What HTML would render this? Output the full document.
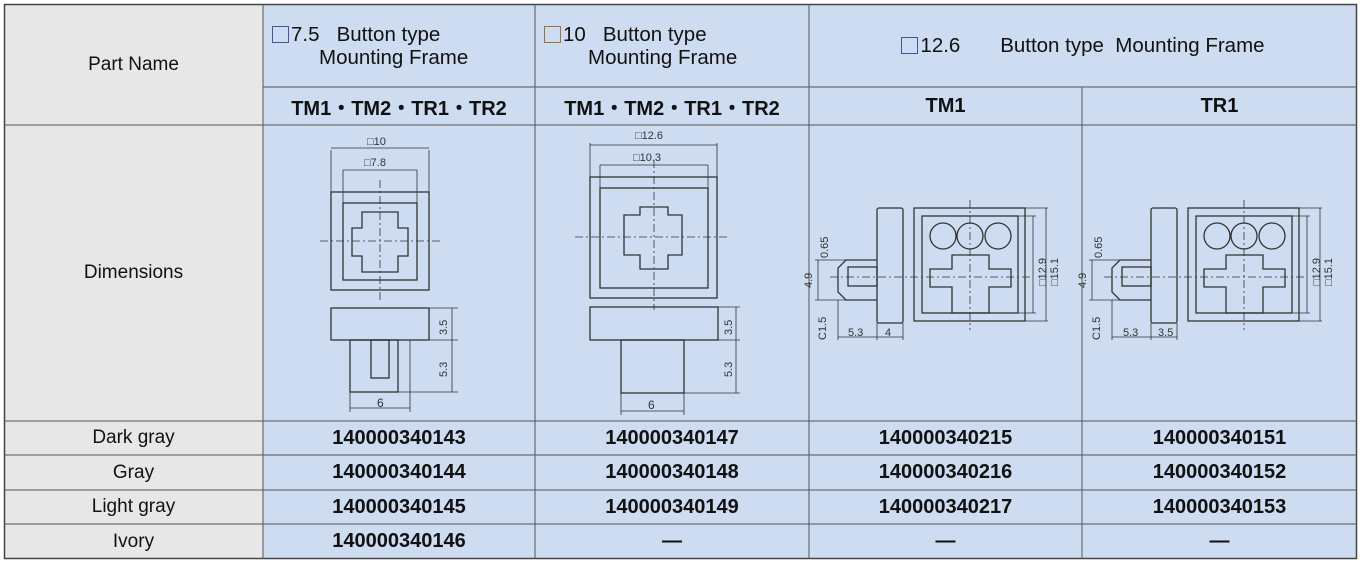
<!DOCTYPE html>
<html><head><meta charset="utf-8"><style>
body{margin:0;width:1360px;height:564px;background:#fff;position:relative;overflow:hidden;font-family:"Liberation Sans",Arial,sans-serif;color:#111}
.c{position:absolute;box-sizing:border-box;display:flex;align-items:center;justify-content:center;text-align:center;font-size:19px}
.g{background:#e7e7e8}.b{background:#cddcf0}
.h{font-size:20.5px}
.bd{font-weight:bold;font-size:20px}
.sq{display:inline-block;width:17px;height:17px;border:1.5px solid #3a5a9a;box-sizing:border-box;vertical-align:-2px;margin-right:2px}
svg{position:absolute;left:0;top:0}
</style></head><body>
<div class="c g" style="left:4px;top:4px;width:259px;height:121px">Part Name</div>
<div class="c b h" style="left:263px;top:4px;width:272px;height:83px;justify-content:flex-start;padding-left:9px;text-align:left;line-height:23px"><div><span class="sq"></span>7.5&nbsp;&nbsp;&nbsp;Button type<br><span style="padding-left:47px">Mounting Frame</span></div></div>
<div class="c b h" style="left:535px;top:4px;width:274px;height:83px;justify-content:flex-start;padding-left:9px;text-align:left;line-height:23px"><div><span class="sq" style="border-color:#a0703a"></span>10&nbsp;&nbsp;&nbsp;Button type<br><span style="padding-left:44px">Mounting Frame</span></div></div>
<div class="c b h" style="left:809px;top:4px;width:548px;height:83px"><div><span class="sq"></span>12.6&nbsp;&nbsp;&nbsp;&nbsp;&nbsp;&nbsp;&nbsp;Button type&nbsp; Mounting Frame</div></div>
<div class="c b bd" style="left:263px;top:87px;width:272px;height:38px">TM1・TM2・TR1・TR2</div>
<div class="c b bd" style="left:535px;top:87px;width:274px;height:38px">TM1・TM2・TR1・TR2</div>
<div class="c b bd" style="left:809px;top:87px;width:273px;height:38px">TM1</div>
<div class="c b bd" style="left:1082px;top:87px;width:275px;height:38px">TR1</div>
<div class="c g" style="left:4px;top:125px;width:259px;height:296px">Dimensions</div>
<div class="c b" style="left:263px;top:125px;width:1094px;height:296px"></div>
<div class="c g" style="left:4px;top:421px;width:259px;height:34px">Dark gray</div>
<div class="c g" style="left:4px;top:455px;width:259px;height:35px">Gray</div>
<div class="c g" style="left:4px;top:490px;width:259px;height:34px">Light gray</div>
<div class="c g" style="left:4px;top:524px;width:259px;height:35px">Ivory</div>
<div class="c b bd" style="left:263px;top:421px;width:272px;height:34px">140000340143</div>
<div class="c b bd" style="left:535px;top:421px;width:274px;height:34px">140000340147</div>
<div class="c b bd" style="left:809px;top:421px;width:273px;height:34px">140000340215</div>
<div class="c b bd" style="left:1082px;top:421px;width:275px;height:34px">140000340151</div>
<div class="c b bd" style="left:263px;top:455px;width:272px;height:35px">140000340144</div>
<div class="c b bd" style="left:535px;top:455px;width:274px;height:35px">140000340148</div>
<div class="c b bd" style="left:809px;top:455px;width:273px;height:35px">140000340216</div>
<div class="c b bd" style="left:1082px;top:455px;width:275px;height:35px">140000340152</div>
<div class="c b bd" style="left:263px;top:490px;width:272px;height:34px">140000340145</div>
<div class="c b bd" style="left:535px;top:490px;width:274px;height:34px">140000340149</div>
<div class="c b bd" style="left:809px;top:490px;width:273px;height:34px">140000340217</div>
<div class="c b bd" style="left:1082px;top:490px;width:275px;height:34px">140000340153</div>
<div class="c b bd" style="left:263px;top:524px;width:272px;height:35px">140000340146</div>
<div class="c b bd" style="left:535px;top:524px;width:274px;height:35px">—</div>
<div class="c b bd" style="left:809px;top:524px;width:273px;height:35px">—</div>
<div class="c b bd" style="left:1082px;top:524px;width:275px;height:35px">—</div>
<svg width="1360" height="564">
<g stroke="#555" stroke-width="1" fill="none">
<rect x="4.5" y="4.5" width="1352" height="554" stroke="#444" stroke-width="1.5"/>
<path d="M263 4V559M535 4V559M809 4V559M1082 87V559M263 87H1357M4 125H1357M4 421H1357M4 455H1357M4 490H1357M4 524H1357"/>
</g>
<g stroke="#333" stroke-width="1.3" fill="none">
<rect x="331" y="192" width="98" height="98"/><rect x="343" y="203" width="74" height="77"/>
<path d="M362 212h36v16h10v28h-10v16h-36v-16h-10v-28h10z"/>
<path d="M380 180V300M320 241H440" stroke-dasharray="8 3 2 3" stroke-width=".8"/>
<path d="M331 150V192M429 150V192M331 148H429M343 170V203M417 170V203M343 170H417" stroke-width=".8"/>
<rect x="331" y="308" width="98" height="32"/><rect x="350" y="340" width="48" height="52"/><rect x="371" y="340" width="18" height="38"/>
<path d="M350 392V412M410 340V412M350 408H410M429 308H458M429 340H458M398 392H458M452 308V392" stroke-width=".8"/>
<rect x="590" y="177" width="127" height="121"/><rect x="600" y="188" width="108" height="100"/>
<path d="M640 207h28v8h14v40h-14v14h-28v-14h-16v-40h16z"/>
<path d="M654 160V310M575 237H730" stroke-dasharray="8 3 2 3" stroke-width=".8"/>
<path d="M590 143V177M717 143V177M590 145H717M600 165V188M708 165V188M600 165H708" stroke-width=".8"/>
<rect x="590" y="307" width="128" height="33"/><rect x="621" y="340" width="63" height="53"/>
<path d="M621 393V415M684 340V415M621 411H684M718 307H740M718 340H740M684 393H740M736 307V393" stroke-width=".8"/>
<g id="t"><rect x="877" y="208" width="26" height="115" rx="2"/>
<path d="M877 260H846l-8 8v24l8 8h31"/><rect x="848" y="267" width="29" height="19"/>
<rect x="914" y="208" width="111" height="113"/><rect x="922" y="216" width="96" height="97"/>
<circle cx="943" cy="236" r="13"/><circle cx="970" cy="236" r="13"/><circle cx="998" cy="236" r="13"/>
<path d="M952 255h37v14h22v18h-22v26h-37v-26h-22v-18h22z"/>
<path d="M970 200V330M830 277H1030" stroke-dasharray="8 3 2 3" stroke-width=".8"/>
<path d="M815 260H846M815 300H846M818 260V300M838 300V340M877 323V340M903 323V340M838 337H903M1018 216H1036M1018 313H1036M1025 208H1048M1025 321H1048M1033 216V313M1046 208V321" stroke-width=".8"/>
</g>
<use href="#t" x="274"/>
</g>
<g font-family="Liberation Sans,sans-serif" font-size="11" fill="#333">
<text x="367" y="145">□10</text><text x="364" y="166">□7.8</text>
<text x="377" y="407" font-size="12">6</text>
<text x="635" y="139">□12.6</text><text x="633" y="161">□10.3</text>
<text x="648" y="409" font-size="12">6</text>
<text x="848" y="336">5.3</text><text x="885" y="336">4</text>
<text x="1123" y="336">5.3</text><text x="1158" y="336">3.5</text>
<g transform="rotate(-90)">
<text x="-335" y="447">3.5</text><text x="-377" y="447">5.3</text>
<text x="-335" y="732">3.5</text><text x="-377" y="732">5.3</text>
<text x="-288" y="812">4.9</text><text x="-258" y="828">0.65</text><text x="-340" y="826">C1.5</text>
<text x="-286" y="1046">□12.9</text><text x="-286" y="1058">□15.1</text>
<text x="-288" y="1086">4.9</text><text x="-258" y="1102">0.65</text><text x="-340" y="1100">C1.5</text>
<text x="-286" y="1320">□12.9</text><text x="-286" y="1332">□15.1</text>
</g></g>
</svg>
</body></html>
